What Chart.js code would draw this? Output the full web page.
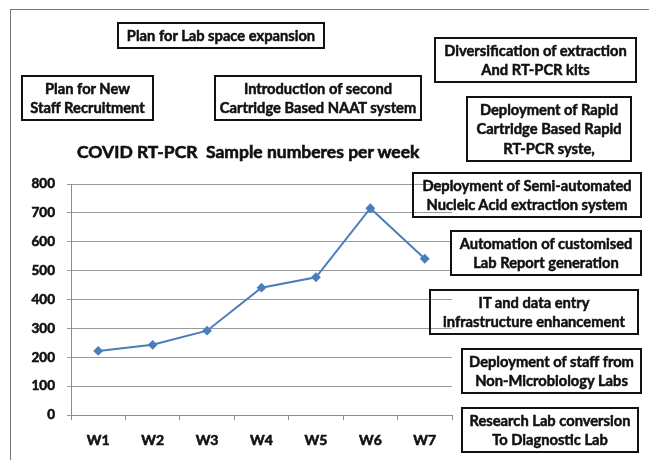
<!DOCTYPE html>
<html>
<head>
<meta charset="utf-8">
<script src="https://cdn.jsdelivr.net/npm/chart.js@4"></script>
<style>
  html, body { margin: 0; padding: 0; background: #fff; }
  #wrap { position: relative; width: 649px; height: 460px; overflow: hidden; font-family: Lato, "Open Sans", sans-serif; }
  #frame { position: absolute; left: 10px; top: 9px; width: 700px; height: 500px; border-top: 1.5px solid #777; border-left: 1.5px solid #777; }
  canvas { position: absolute; left: 0; top: 0; }
  .note { position: absolute; border: 2px solid #111; box-sizing: border-box; display: flex; align-items: center; justify-content: center; text-align: center; font-weight: bold; font-size: 14.7px; line-height: 19.5px; color: #111; -webkit-text-stroke: 0.5px #111; white-space: nowrap; }
  #title { position: absolute; left: 77px; top: 141px; font-weight: bold; font-size: 17.5px; color: #111; white-space: nowrap; -webkit-text-stroke: 0.6px #111; }
</style>
</head>
<body>
<div id="wrap">
  <div id="frame"></div>
  <canvas id="lineChart" width="649" height="460"></canvas>
  <div id="title">COVID RT-PCR&nbsp; Sample numberes per week</div>
</div>
<script>
( function () {
    "use strict";

var weeks = ['W1', 'W2', 'W3', 'W4', 'W5', 'W6', 'W7'];
var samples = [222, 243, 292, 441, 477, 716, 541];
var yTicks = [0, 100, 200, 300, 400, 500, 600, 700, 800];

// annotation boxes: text lines + where they sit on the page
var notes = [
    { lines: ['Plan for Lab space expansion'], x: 117, y: 22, w: 208, h: 27 },
    { lines: ['Plan for New', 'Staff Recruitment'], x: 21, y: 75, w: 133, h: 46 },
    { lines: ['Introduction of second', 'Cartridge Based NAAT system'], x: 214, y: 75, w: 208, h: 46 },
    { lines: ['Diversification of extraction', 'And RT-PCR kits'], x: 434, y: 37, w: 203, h: 46 },
    { lines: ['Deployment of Rapid', 'Cartridge Based Rapid', 'RT-PCR syste,'], x: 466, y: 96, w: 166, h: 66 },
    { lines: ['Deployment of Semi-automated', 'Nucleic Acid extraction system'], x: 412, y: 172, w: 230, h: 46 },
    { lines: ['Automation of customised', 'Lab Report generation'], x: 450, y: 230, w: 192, h: 46 },
    { lines: ['IT and data entry', 'infrastructure enhancement'], x: 429, y: 289, w: 210, h: 46 },
    { lines: ['Deployment of staff from', 'Non-Microbiology Labs'], x: 461, y: 348, w: 181, h: 46 },
    { lines: ['Research Lab conversion', 'To Diagnostic Lab'], x: 461, y: 407, w: 178, h: 46 }
];

var wrap = document.getElementById('wrap');
for (var i = 0; i < notes.length; i++) {
    var n = notes[i];
    var d = document.createElement('div');
    d.className = 'note';
    d.style.left = n.x + 'px';
    d.style.top = n.y + 'px';
    d.style.width = n.w + 'px';
    d.style.height = n.h + 'px';
    d.innerHTML = n.lines.join('<br>');
    wrap.appendChild(d);
}

var ctx = document.getElementById('lineChart');
var myChart = new Chart(ctx, {
    type: 'line',
    data: {
        labels: weeks,
        datasets: [{
            data: samples,
            borderColor: '#4a7ebb',
            backgroundColor: '#4a7ebb',
            borderWidth: 2,
            pointStyle: 'rectRot',
            pointRadius: 3.5,
            tension: 0
        }]
    },
    options: {
        responsive: false,
        animation: false,
        layout: { padding: { left: 0, top: 184, right: 197, bottom: 0 } },
        plugins: {
            legend: { display: false },
            tooltip: { enabled: false }
        },
        scales: {
            x: {
                offset: true,
                grid: { offset: true, drawOnChartArea: false, tickLength: 5, color: '#8c8c8c' },
                border: { color: '#8c8c8c' },
                ticks: { color: '#111', textStrokeColor: '#111', textStrokeWidth: 0.6, padding: 12, font: { family: 'Lato', size: 14, weight: 'bold' } },
                afterFit: function (s) { s.height = 45; }
            },
            y: {
                min: 0,
                max: 800,
                afterBuildTicks: function (s) { s.ticks = yTicks.map(function (v) { return { value: v }; }); },
                grid: { color: '#9a9a9a', tickLength: 4 },
                border: { color: '#8c8c8c' },
                ticks: { color: '#111', textStrokeColor: '#111', textStrokeWidth: 0.6, padding: 12, font: { family: 'Lato', size: 13.5, weight: 'bold' } },
                afterFit: function (s) { s.width = 71; }
            }
        }
    }
});

} )();
</script>
</body>
</html>
